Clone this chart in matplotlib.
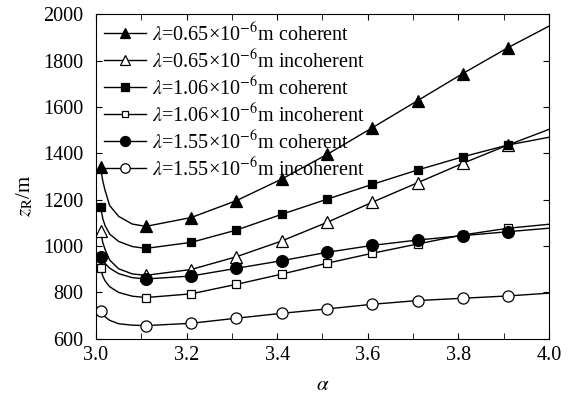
import matplotlib.pyplot as plt
from matplotlib.ticker import MultipleLocator

plt.rcParams['font.family'] = ['Liberation Serif', 'DejaVu Serif']
plt.rcParams['mathtext.fontset'] = 'stix'

# marker positions (alpha) and values
alpha_mk = [3.01, 3.11, 3.21, 3.31, 3.41, 3.51, 3.61, 3.71, 3.81, 3.91]
# line positions: marker positions plus a few extra points for the steep start and the end
alpha_ln = [3.01, 3.015, 3.02, 3.03, 3.05, 3.08, 3.11, 3.21, 3.31, 3.41, 3.51,
            3.61, 3.71, 3.81, 3.91, 4.0]

a065_coh = [1340, 1280, 1240, 1175, 1128, 1095, 1085, 1123, 1196, 1289, 1395,
            1510, 1627, 1744, 1856, 1948]
a065_inc = [1064, 1015, 985, 940, 902, 880, 874, 899, 954, 1022, 1102,
            1189, 1273, 1357, 1436, 1503]
a106_coh = [1170, 1118, 1088, 1052, 1020, 998, 990, 1016, 1069, 1137, 1202,
            1266, 1328, 1385, 1436, 1469]
a106_inc = [905, 870, 850, 825, 800, 784, 778, 794, 835, 879, 926,
            969, 1009, 1048, 1077, 1094]
a155_coh = [954, 938, 925, 905, 881, 864, 858, 871, 904, 937, 973,
            1003, 1026, 1045, 1062, 1077]
a155_inc = [722, 706, 695, 680, 665, 659, 657, 667, 689, 710, 729,
            749, 765, 775, 785, 797]

labels = [r'$\lambda$=0.65×10$^{-6}$m coherent',
          r'$\lambda$=0.65×10$^{-6}$m incoherent',
          r'$\lambda$=1.06×10$^{-6}$m coherent',
          r'$\lambda$=1.06×10$^{-6}$m incoherent',
          r'$\lambda$=1.55×10$^{-6}$m coherent',
          r'$\lambda$=1.55×10$^{-6}$m incoherent']
series = [a065_coh, a065_inc, a106_coh, a106_inc, a155_coh, a155_inc]
markers = ['^', '^', 's', 's', 'o', 'o']
fills = ['black', 'white', 'black', 'white', 'black', 'white']
msizes = [9, 9, 6, 5.5, 8.5, 8]

# indices of line points that carry a marker
mk_idx = [alpha_ln.index(a) for a in alpha_mk]

fig, ax = plt.subplots(figsize=(5.82, 3.94), dpi=100)
fig.subplots_adjust(left=0.165, right=0.943, top=0.964, bottom=0.14)

for y, m, fc, ms, lab in zip(series, markers, fills, msizes, labels):
    ax.plot(alpha_ln, y, color='black', lw=1.0, marker=m, markevery=mk_idx,
            markersize=ms, markerfacecolor=fc, markeredgecolor='black',
            markeredgewidth=0.9, label=lab)

ax.set_xlim(3.0, 4.0)
ax.set_ylim(600, 2000)
ax.xaxis.set_major_locator(MultipleLocator(0.2))
ax.xaxis.set_minor_locator(MultipleLocator(0.1))
ax.yaxis.set_major_locator(MultipleLocator(200))
ax.xaxis.set_major_formatter(plt.FuncFormatter(lambda v, p: f'{v:.1f}'))
ax.tick_params(which='both', direction='in', top=True, right=True,
               labelsize=14.5)
ax.tick_params(which='both', length=4)
ax.tick_params(axis='y', pad=9)
ax.tick_params(axis='x', pad=5)
ax.set_xlabel(r'$\alpha$', fontsize=15)
ax.set_ylabel(r'$z_{\mathrm{R}}$/m', fontsize=15)
ax.xaxis.set_label_coords(0.5, -0.115)
ax.yaxis.set_label_coords(-0.135, 0.44)

ax.legend(loc='upper left', frameon=False, fontsize=14.5, handlelength=2.1,
          handletextpad=0.3, labelspacing=0.19, borderaxespad=0.0,
          borderpad=0.4, markerscale=0.85)

fig.savefig('out.png', dpi=100)
